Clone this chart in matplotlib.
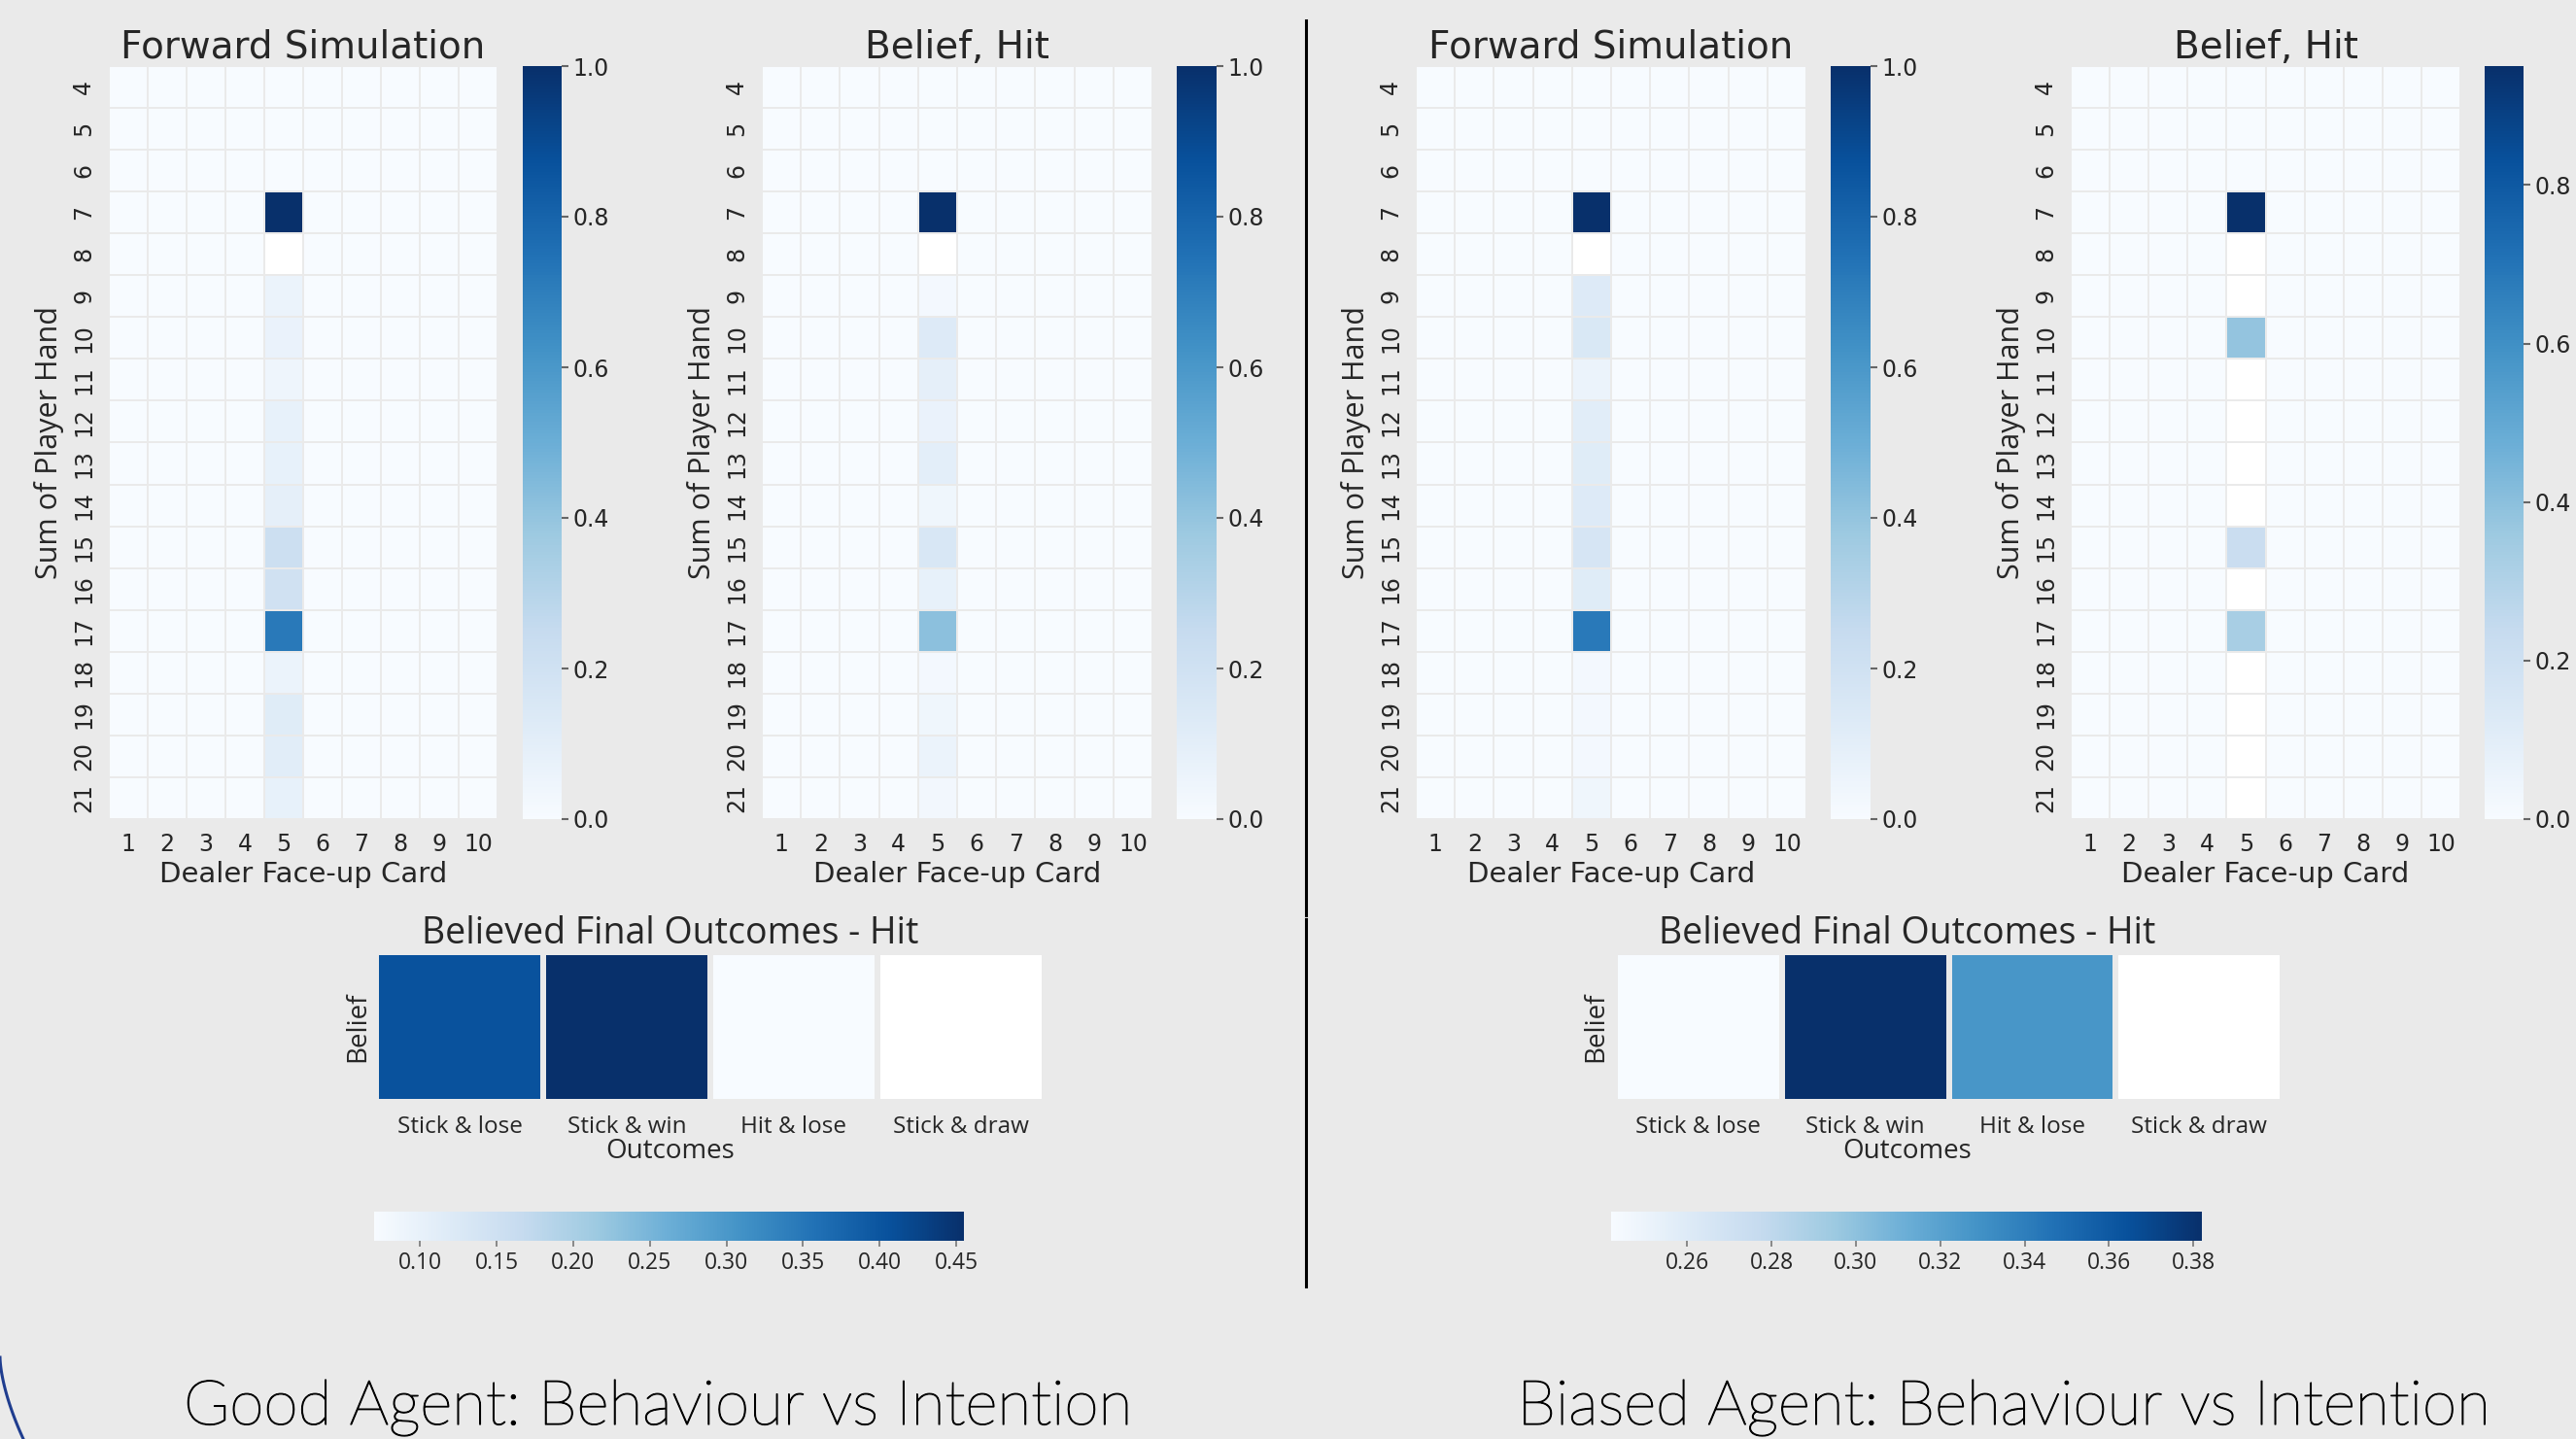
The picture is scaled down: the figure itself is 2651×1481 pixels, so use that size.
import numpy as np
import matplotlib
matplotlib.use("Agg")
import matplotlib.pyplot as plt
import matplotlib.patheffects as pe
from matplotlib.lines import Line2D

W, H = 2651, 1481
BG = "#eaeaea"
TXT = "#262626"
NaN = np.nan

# axes of the hand heatmaps
rows = list(range(4, 22))
cards = list(range(1, 11))
outcomes = ["Stick & lose", "Stick & win", "Hit & lose", "Stick & draw"]

# values in the dealer-card-5 column, rows 4..21 (all other cells are 0)
good_fwd_col5 = [0, 0, 0, 1.0, NaN, 0.06, 0.07, 0.05, 0.08, 0.08, 0.09, 0.22, 0.20, 0.72, 0.06, 0.12, 0.11, 0.08]
good_bel_col5 = [0, 0, 0, 1.0, NaN, 0.02, 0.13, 0.09, 0.07, 0.10, 0.04, 0.16, 0.08, 0.42, 0.02, 0.04, 0.06, 0.03]
bias_fwd_col5 = [0, 0, 0, 1.0, NaN, 0.13, 0.15, 0.06, 0.11, 0.12, 0.13, 0.17, 0.12, 0.72, 0.02, 0.02, 0.02, 0.04]
bias_bel_col5 = [0, 0, 0, 0.95, NaN, NaN, 0.38, NaN, NaN, NaN, NaN, 0.22, NaN, 0.33, NaN, NaN, NaN, NaN]

# believed final outcomes - hit
good_outcome_vals = [0.405, 0.455, 0.07, NaN]
bias_outcome_vals = [0.242, 0.382, 0.327, NaN]

good_outcome_ticks = [0.10, 0.15, 0.20, 0.25, 0.30, 0.35, 0.40, 0.45]
bias_outcome_ticks = [0.26, 0.28, 0.30, 0.32, 0.34, 0.36, 0.38]


def grid(col5):
    m = np.zeros((len(rows), len(cards)))
    m[:, cards.index(5)] = col5
    return m


def box(x0, y0, x1, y1):
    # pixel box -> figure fraction rect
    return [x0 / W, 1 - y1 / H, (x1 - x0) / W, (y1 - y0) / H]


cmap = plt.get_cmap("Blues").copy()
cmap.set_bad("white")

fig = plt.figure(figsize=(W / 100, H / 100), dpi=100, facecolor=BG)


def hand_heatmap(ax_px, cb_px, col5, title, cb_ticks):
    data = grid(col5)
    ax = fig.add_axes(box(*ax_px))
    ax.set_facecolor("white")
    mesh = ax.pcolormesh(np.arange(len(cards) + 1), np.arange(len(rows) + 1),
                         np.ma.masked_invalid(data), cmap=cmap,
                         vmin=np.nanmin(data), vmax=np.nanmax(data),
                         edgecolors=BG, linewidth=1.4)
    ax.set_xlim(0, len(cards))
    ax.set_ylim(len(rows), 0)
    ax.set_xticks(np.arange(len(cards)) + 0.5, [str(c) for c in cards])
    ax.set_yticks(np.arange(len(rows)) + 0.5, [str(r) for r in rows],
                  rotation=90, va="center")
    ax.tick_params(length=0, labelsize=17, labelcolor=TXT, pad=10)
    for s in ax.spines.values():
        s.set_visible(False)
    ax.set_title(title, fontsize=28, color=TXT, pad=6)
    ax.set_xlabel("Dealer Face-up Card", fontsize=21, color=TXT, labelpad=4)
    ax.set_ylabel("Sum of Player Hand", fontsize=22, color=TXT, labelpad=6,
                  family="Open Sans")

    cax = fig.add_axes(box(*cb_px))
    cb = fig.colorbar(mesh, cax=cax, ticks=cb_ticks)
    cb.outline.set_visible(False)
    cax.tick_params(length=5, width=1.5, color="#666666", labelsize=17,
                    labelcolor=TXT, pad=3)


def outcome_heatmap(ax_px, cb_px, vals, ticks, cx, ylab_x):
    data = np.array([vals])
    ax = fig.add_axes(box(*ax_px))
    ax.set_facecolor("white")
    mesh = ax.pcolormesh(np.arange(len(outcomes) + 1), np.arange(2),
                         np.ma.masked_invalid(data), cmap=cmap,
                         vmin=np.nanmin(data), vmax=np.nanmax(data),
                         edgecolors=BG, linewidth=3.2)
    ax.set_xlim(0, len(outcomes))
    ax.set_ylim(1, 0)
    ax.set_xticks(np.arange(len(outcomes)) + 0.5, outcomes)
    ax.set_yticks([])
    ax.tick_params(length=0, labelsize=17.5, labelcolor=TXT, pad=10)
    for lab in ax.get_xticklabels():
        lab.set_family("Open Sans")
    for s in ax.spines.values():
        s.set_visible(False)

    fig.text(cx / W, 1 - 971 / H, "Believed Final Outcomes - Hit", fontsize=27,
             color=TXT, ha="center", va="baseline", family="Open Sans")
    fig.text(cx / W, 1 - 1192 / H, "Outcomes", fontsize=20, color=TXT,
             ha="center", va="baseline", family="Open Sans")
    fig.text(ylab_x / W, 1 - 1057 / H, "Belief", fontsize=20, color=TXT,
             ha="center", va="center", rotation=90, family="Open Sans")

    cax = fig.add_axes(box(*cb_px))
    cb = fig.colorbar(mesh, cax=cax, orientation="horizontal", ticks=ticks)
    cb.outline.set_visible(False)
    cax.tick_params(length=4, width=1.2, color="#777777", labelsize=16.5,
                    labelcolor=TXT, pad=4)
    for lab in cax.get_xticklabels():
        lab.set_family("Open Sans")


bar_ticks = [0.0, 0.2, 0.4, 0.6, 0.8, 1.0]
hand_heatmap((112, 68, 512, 843), (538, 68, 578, 843), good_fwd_col5, "Forward Simulation", bar_ticks)
hand_heatmap((784, 68, 1186, 843), (1211, 68, 1252, 843), good_bel_col5, "Belief, Hit", bar_ticks)
hand_heatmap((1457, 68, 1859, 843), (1884, 68, 1925, 843), bias_fwd_col5, "Forward Simulation", bar_ticks)
hand_heatmap((2131, 68, 2532, 843), (2557, 68, 2597, 843), bias_bel_col5, "Belief, Hit", bar_ticks[:-1])

outcome_heatmap((387, 980, 1075, 1134), (385, 1247, 992, 1277), good_outcome_vals, good_outcome_ticks, 690, 368)
outcome_heatmap((1662, 980, 2349, 1134), (1658, 1247, 2266, 1277), bias_outcome_vals, bias_outcome_ticks, 1963, 1642)

# divider between the two agents
for y0, y1 in [(21, 942), (946, 1324)]:
    fig.add_artist(Line2D([1344 / W, 1344 / W], [1 - y0 / H, 1 - y1 / H],
                          color="black", lw=2.2, transform=fig.transFigure))

# slide decoration in the lower left corner
t = np.linspace(0, 1, 30)
fig.add_artist(Line2D(24 * t ** 1.6 / W, 1 - (1397 + 84 * t) / H, color="#1f3d8f",
                      lw=2.2, transform=fig.transFigure))

# slide captions: thin face, slightly thickened
thin = [pe.withStroke(linewidth=0.9, foreground="black")]
fig.text(677 / W, 1 - 1466 / H, "Good Agent: Behaviour vs Intention", fontsize=46,
         ha="center", va="baseline", family="Lato", weight="light", color="black",
         path_effects=thin)
fig.text(2062 / W, 1 - 1466 / H, "Biased Agent: Behaviour vs Intention", fontsize=46,
         ha="center", va="baseline", family="Lato", weight="light", color="black",
         path_effects=thin)

fig.savefig("out.png", dpi=100, facecolor=BG)
